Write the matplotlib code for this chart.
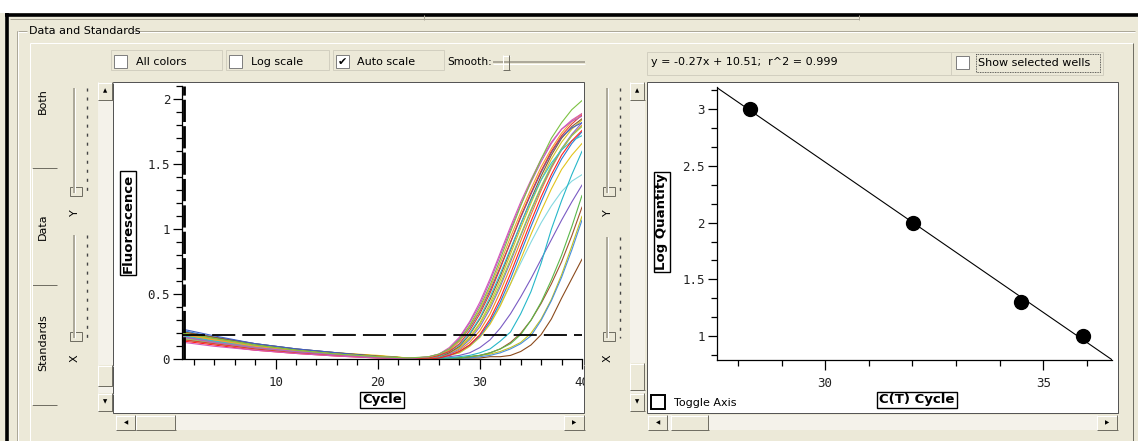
import numpy as np
import matplotlib
matplotlib.use("Agg")
import matplotlib.pyplot as plt
from matplotlib.patches import Rectangle
from matplotlib.ticker import MultipleLocator

W, H = 1138, 441
BEIGE = '#ECE9D8'
DARK = '#716F64'
GRAY = '#ACA899'
UI_FONT = 'DejaVu Sans'
TICK_FONT = 'DejaVu Sans Mono'

# ---- data ----
cycles = [1, 4, 8, 12, 16, 20, 23, 25, 26, 27, 28, 29, 30, 31, 32, 33, 34, 35, 36, 37, 38, 39, 40]

well_01 = [0.20, 0.16, 0.11, 0.07, 0.04, 0.02, 0.01, 0.02, 0.04, 0.08, 0.15, 0.26, 0.40, 0.57, 0.77, 0.98, 1.18, 1.37, 1.54, 1.70, 1.82, 1.92, 1.99]
well_02 = [0.17, 0.13, 0.09, 0.06, 0.035, 0.015, 0.005, 0.02, 0.04, 0.08, 0.16, 0.28, 0.42, 0.60, 0.80, 1.00, 1.19, 1.36, 1.52, 1.66, 1.77, 1.83, 1.87]
well_03 = [0.19, 0.15, 0.10, 0.065, 0.04, 0.02, 0.01, 0.01, 0.03, 0.07, 0.14, 0.25, 0.38, 0.55, 0.74, 0.94, 1.13, 1.31, 1.48, 1.62, 1.74, 1.83, 1.89]
well_04 = [0.23, 0.18, 0.12, 0.08, 0.05, 0.02, 0.01, 0.01, 0.03, 0.07, 0.14, 0.24, 0.37, 0.53, 0.71, 0.90, 1.09, 1.27, 1.44, 1.59, 1.71, 1.78, 1.82]
well_05 = [0.15, 0.12, 0.08, 0.05, 0.03, 0.015, 0.005, 0.01, 0.03, 0.06, 0.12, 0.22, 0.35, 0.51, 0.70, 0.90, 1.10, 1.28, 1.45, 1.60, 1.72, 1.81, 1.88]
well_06 = [0.18, 0.14, 0.10, 0.06, 0.04, 0.02, 0.01, 0.01, 0.02, 0.06, 0.11, 0.20, 0.32, 0.48, 0.66, 0.85, 1.04, 1.22, 1.38, 1.51, 1.61, 1.68, 1.72]
well_07 = [0.21, 0.17, 0.12, 0.08, 0.05, 0.025, 0.01, 0.01, 0.02, 0.05, 0.10, 0.19, 0.31, 0.46, 0.64, 0.84, 1.04, 1.23, 1.41, 1.57, 1.70, 1.79, 1.85]
well_08 = [0.19, 0.15, 0.11, 0.07, 0.045, 0.025, 0.01, 0.01, 0.02, 0.05, 0.09, 0.17, 0.28, 0.43, 0.61, 0.81, 1.01, 1.20, 1.38, 1.54, 1.67, 1.77, 1.84]
well_09 = [0.16, 0.13, 0.09, 0.06, 0.035, 0.02, 0.01, 0.01, 0.02, 0.05, 0.09, 0.16, 0.27, 0.41, 0.58, 0.77, 0.96, 1.15, 1.33, 1.49, 1.62, 1.72, 1.79]
well_10 = [0.17, 0.13, 0.09, 0.06, 0.04, 0.02, 0.01, 0.01, 0.02, 0.04, 0.08, 0.15, 0.25, 0.39, 0.56, 0.75, 0.95, 1.14, 1.32, 1.48, 1.62, 1.73, 1.82]
well_11 = [0.14, 0.11, 0.07, 0.045, 0.025, 0.01, 0.005, 0.00, 0.01, 0.03, 0.06, 0.11, 0.19, 0.31, 0.47, 0.66, 0.86, 1.06, 1.25, 1.42, 1.57, 1.68, 1.76]
well_12 = [0.18, 0.14, 0.095, 0.06, 0.04, 0.02, 0.01, 0.01, 0.02, 0.04, 0.07, 0.13, 0.22, 0.35, 0.52, 0.71, 0.91, 1.11, 1.30, 1.47, 1.61, 1.72, 1.80]
well_13 = [0.22, 0.17, 0.12, 0.08, 0.05, 0.02, 0.01, 0.00, 0.01, 0.03, 0.06, 0.11, 0.18, 0.29, 0.44, 0.62, 0.82, 1.02, 1.21, 1.39, 1.54, 1.66, 1.75]
well_14 = [0.17, 0.135, 0.09, 0.06, 0.035, 0.02, 0.01, 0.00, 0.01, 0.01, 0.02, 0.03, 0.05, 0.08, 0.14, 0.21, 0.35, 0.52, 0.74, 1.00, 1.22, 1.42, 1.60]
well_15 = [0.13, 0.10, 0.07, 0.045, 0.025, 0.01, 0.005, 0.02, 0.04, 0.09, 0.17, 0.29, 0.44, 0.62, 0.82, 1.02, 1.21, 1.38, 1.54, 1.67, 1.77, 1.84, 1.89]
well_16 = [0.20, 0.16, 0.11, 0.075, 0.05, 0.03, 0.01, 0.00, 0.01, 0.03, 0.05, 0.10, 0.17, 0.27, 0.41, 0.58, 0.77, 0.96, 1.14, 1.31, 1.46, 1.57, 1.66]
well_17 = [0.16, 0.125, 0.085, 0.055, 0.035, 0.02, 0.01, 0.00, 0.01, 0.03, 0.05, 0.10, 0.17, 0.28, 0.42, 0.58, 0.74, 0.90, 1.05, 1.18, 1.29, 1.37, 1.42]
well_18 = [0.18, 0.14, 0.10, 0.065, 0.04, 0.02, 0.01, 0.00, 0.01, 0.02, 0.03, 0.05, 0.09, 0.15, 0.24, 0.35, 0.48, 0.62, 0.77, 0.92, 1.07, 1.21, 1.34]
well_19 = [0.15, 0.12, 0.08, 0.05, 0.03, 0.015, 0.01, 0.00, 0.00, 0.01, 0.01, 0.02, 0.03, 0.05, 0.08, 0.12, 0.19, 0.30, 0.44, 0.61, 0.80, 1.02, 1.26]
well_20 = [0.21, 0.165, 0.115, 0.075, 0.045, 0.02, 0.01, 0.00, 0.00, 0.01, 0.01, 0.02, 0.03, 0.05, 0.08, 0.13, 0.20, 0.30, 0.43, 0.58, 0.75, 0.95, 1.17]
well_21 = [0.19, 0.15, 0.10, 0.065, 0.04, 0.02, 0.01, 0.00, 0.00, 0.00, 0.01, 0.01, 0.02, 0.03, 0.05, 0.08, 0.12, 0.18, 0.30, 0.45, 0.63, 0.84, 1.07]
well_22 = [0.16, 0.13, 0.09, 0.06, 0.04, 0.025, 0.01, 0.00, 0.00, 0.01, 0.01, 0.02, 0.03, 0.04, 0.06, 0.09, 0.13, 0.20, 0.31, 0.46, 0.65, 0.87, 1.10]
well_23 = [0.20, 0.16, 0.11, 0.07, 0.04, 0.02, 0.01, 0.00, 0.00, 0.00, 0.01, 0.01, 0.01, 0.02, 0.02, 0.03, 0.06, 0.11, 0.19, 0.31, 0.47, 0.62, 0.77]

wells = [well_23, well_22, well_21, well_20, well_19, well_18, well_17, well_16, well_14,
         well_13, well_12, well_10, well_09, well_08, well_07, well_06, well_04, well_03,
         well_11, well_05, well_02, well_15, well_01]
well_colors = ['#8b4a1c', '#c4c21f', '#4a90da', '#a0522d', '#5bb84a', '#7a5bc3', '#86d9e0', '#e2c41c', '#26b7c9',
               '#2b7fd6', '#ef8a22', '#8a68c8', '#92d050', '#d6c224', '#8c5a2e', '#35c0cf', '#3f5fc6', '#f5a030',
               '#ff2020', '#e53a2f', '#b65fc4', '#d558b8', '#7cc242']
threshold = 0.185

ct_cycle = [28.27, 32.02, 34.48, 35.92]
log_qty = [3.0, 2.0, 1.3, 1.0]
fit_text = 'y = -0.27x + 10.51;  r^2 = 0.999'

left_xticks = [10, 20, 30, 40]
left_yticks = [0, 0.5, 1, 1.5, 2]
left_ylabels = ['0', '0.5', '1', '1.5', '2']
right_xticks = [30, 35]
right_yticks = [1, 1.5, 2, 2.5, 3]
right_ylabels = ['1', '1.5', '2', '2.5', '3']

# ---- figure + pixel overlay axes ----
fig = plt.figure(figsize=(W / 100, H / 100), dpi=100, facecolor=BEIGE)
bg = fig.add_axes([0, 0, 1, 1], zorder=-5)
fg = fig.add_axes([0, 0, 1, 1], zorder=5)
for a in (bg, fg):
    a.set_xlim(0, W)
    a.set_ylim(H, 0)
    a.axis('off')


def rect(x, y, w, h, fc='none', ec='none', lw=0.72, ax=None, **kw):
    (ax or bg).add_patch(Rectangle((x, y), w, h, facecolor=fc, edgecolor=ec, linewidth=lw, **kw))


def hline(x0, x1, y, c, lw=0.72, ax=None, **kw):
    (ax or bg).plot([x0, x1], [y, y], color=c, lw=lw, solid_capstyle='butt', **kw)


def vline(x, y0, y1, c, lw=0.72, ax=None, **kw):
    (ax or bg).plot([x, x], [y0, y1], color=c, lw=lw, solid_capstyle='butt', **kw)


def label(x, y, s, size=8, ax=None, **kw):
    kw.setdefault('va', 'center')
    (ax or bg).text(x, y, s, fontsize=size, family=UI_FONT, color='black', **kw)


def button(x, y, w, h, glyph=None):
    rect(x, y, w, h, fc=BEIGE)
    hline(x, x + w, y + 0.5, 'white')
    vline(x + 0.5, y, y + h, 'white')
    hline(x, x + w, y + h - 0.5, DARK)
    vline(x + w - 0.5, y, y + h, DARK)
    if glyph:
        label(x + w / 2, y + h / 2, glyph, size=4, ha='center')


def vscroll(x, y0, y1, t0, t1):
    rect(x, y0, 15, y1 - y0, fc='#F4F2EA')
    button(x, y0, 15, 18, '▲')
    button(x, t0, 15, t1 - t0)
    button(x, y1 - 18, 15, 18, '▼')


def hscroll(x0, x1, y, t0, t1):
    rect(x0, y, x1 - x0, 15, fc='#F4F2EA')
    button(x0, y, 20, 15, '◀')
    button(t0, y, t1 - t0, 15)
    button(x1 - 21, y, 21, 15, '▶')


def checkbox(x, y, s=13, checked=False, ec='#808080', lw=0.72):
    rect(x, y, s, s, fc='white', ec=ec, lw=lw)
    if checked:
        label(x + s / 2, y + s / 2 + 0.5, '✔', size=8, ha='center')


def slider(x, y0, y1, name):
    vline(x, y0, y1, GRAY, lw=1.4)
    vline(x + 1, y0, y1, 'white', lw=0.72)
    vline(x + 13, y0, y1, '#444444', lw=1.0, dashes=(2.2, 4.3))
    rect(x - 4, y1 - 6, 12, 9, fc=BEIGE, ec=DARK, lw=0.72)
    label(x + 1, y1 + 20, name, size=8, ha='center', rotation=90)


# window chrome
rect(0, 0, W, 12.5, fc='white')
hline(5, W, 14.5, 'black', lw=2.6)
vline(7, 13, H, 'black', lw=2.6)
hline(10, 859, 18.5, GRAY)
vline(424, 15, 20, GRAY)
vline(859, 15, 20, GRAY)

# "Data and Standards" group box
hline(17, 27, 31, GRAY)
hline(133, 1135, 31, GRAY)
hline(17, 27, 32, 'white')
hline(133, 1135, 32, 'white')
vline(17, 31, H, GRAY)
vline(18, 31, H, 'white')
label(29, 31, 'Data and Standards', size=8)

# tab control
hline(30, 1133, 43, 'white')
vline(30, 43, H, 'white')
vline(1133, 43, H, DARK)
for yy in (168, 285, 405):
    hline(32, 57, yy, DARK)
vline(32, 168, 405, 'white')
label(43, 101, 'Both', size=8, ha='center', rotation=90)
label(43, 227, 'Data', size=8, ha='center', rotation=90)
label(43, 343, 'Standards', size=8, ha='center', rotation=90)

# top option row
for fx0, fx1 in ((111, 222), (226, 329), (333, 444)):
    rect(fx0, 50, fx1 - fx0, 20, ec='#D2CFC0')
checkbox(114, 55)
label(136, 62, 'All colors')
checkbox(229, 55)
label(251, 62, 'Log scale')
checkbox(336, 55, checked=True)
label(357, 62, 'Auto scale')
label(447, 62, 'Smooth:', size=7.6)
hline(493, 585, 62, GRAY, lw=1.4)
hline(493, 585, 63.5, 'white')
button(503, 55, 7, 15)

rect(647, 52, 304, 23, ec='#D2CFC0')
label(651, 62, fit_text)
rect(951, 52, 152, 23, ec='#D2CFC0')
checkbox(956, 56)
rect(976, 54, 124, 18, ec='#333333', lw=0.6, linestyle=(0, (1, 1)))
label(978, 63, 'Show selected wells')

# left panel widgets
slider(74, 88, 193, 'Y')
slider(74, 235, 338, 'X')
vscroll(98, 82, 411, 365, 386)
hscroll(116, 585, 415, 136, 176)
rect(113, 82, 471, 331, fc='white', ec='#555555')

# right panel widgets
slider(607, 88, 193, 'Y')
slider(607, 237, 338, 'X')
vscroll(630, 82, 411, 363, 390)
hscroll(648, 1118, 415, 671, 709)
rect(647, 82, 471, 331, fc='white', ec='#555555')
checkbox(651, 395, s=14, ec='black', lw=1.4)
label(674, 403, 'Toggle Axis')

# ---- amplification plot ----
axL = fig.add_axes([182 / W, 1 - 359.3 / H, 400 / W, 273.3 / H])
for vals, c in zip(wells, well_colors):
    axL.plot(cycles, vals, color=c, lw=0.8)
axL.axhline(threshold, color='black', lw=1.3, dashes=(12.8, 3.9))
axL.axvline(1.0, color='black', lw=2.0, dashes=(8, 1.5))
axL.set_xlim(0.83, 40)
axL.set_ylim(0, 2.102)
axL.set_xticks(left_xticks, [str(v) for v in left_xticks])
axL.set_yticks(left_yticks, left_ylabels)
axL.xaxis.set_minor_locator(MultipleLocator(2))
axL.yaxis.set_minor_locator(MultipleLocator(0.1))

# ---- standard curve ----
axR = fig.add_axes([716.5 / W, 1 - 360 / H, 395.3 / W, 272.7 / H])
slope, icpt = np.polyfit(ct_cycle, log_qty, 1)
xfit = np.array([27.51, 36.57])
axR.plot(xfit, slope * xfit + icpt, color='black', lw=0.8)
axR.plot(ct_cycle, log_qty, 'o', color='black', ms=10)
axR.set_xlim(27.51, 36.57)
axR.set_ylim(0.788, 3.194)
axR.set_xticks(right_xticks, [str(v) for v in right_xticks])
axR.set_yticks(right_yticks, right_ylabels)
axR.xaxis.set_minor_locator(MultipleLocator(1))
axR.yaxis.set_minor_locator(MultipleLocator(0.5 / 3))

for ax in (axL, axR):
    ax.set_facecolor('white')
    for side in ('top', 'right'):
        ax.spines[side].set_visible(False)
    for side in ('left', 'bottom'):
        ax.spines[side].set_color('black')
        ax.spines[side].set_linewidth(0.9)
    ax.tick_params(which='both', direction='out', color='black', width=0.9,
                   labelsize=9, labelcolor='#222222')
    ax.tick_params(axis='x', which='major', length=7, pad=5)
    ax.tick_params(axis='x', which='minor', length=4.3)
    ax.tick_params(axis='y', which='major', length=6.5, pad=2)
    ax.tick_params(axis='y', which='minor', length=4.3)
    for t in ax.get_xticklabels() + ax.get_yticklabels():
        t.set_family(TICK_FONT)

box = dict(boxstyle='square,pad=0.15', fc='white', ec='black', lw=1.0)
label(128, 223, 'Fluorescence', size=9.5, ha='center', rotation=90, weight='bold', bbox=box)
label(382, 400, 'Cycle', size=9.5, ha='center', weight='bold', bbox=box)
label(662, 222, 'Log Quantity', size=9.5, ha='center', rotation=90, weight='bold', bbox=box)
label(917, 400, 'C(T) Cycle', size=9.5, ha='center', weight='bold', bbox=box)

# clip the "40" label at the panel edge
rect(584.5, 365, 14, 30, fc=BEIGE, ax=fg)
vline(584, 365, 395, '#555555', ax=fg)

fig.savefig('out.png', dpi=100, facecolor=BEIGE)
